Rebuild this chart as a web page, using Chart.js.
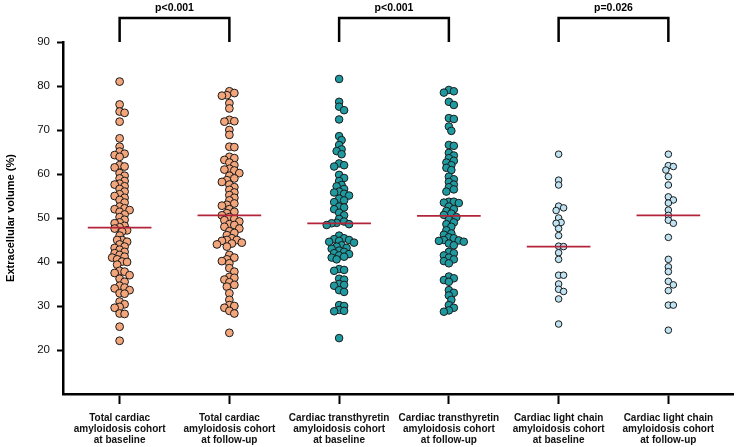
<!DOCTYPE html>
<html>
<head>
<meta charset="utf-8">
<script src="https://cdn.jsdelivr.net/npm/chart.js@4.4.0/dist/chart.umd.min.js"></script>
<style>
    html, body { margin: 0; padding: 0; background: #ffffff; }
</style>
</head>
<body>
<canvas id="grafico-ecv" width="738" height="447"></canvas>
<script>
// Categorias (rótulos do eixo x, em três linhas)
const categorias = [
    ['Total cardiac', 'amyloidosis cohort', 'at baseline'],
    ['Total cardiac', 'amyloidosis cohort', 'at follow-up'],
    ['Cardiac transthyretin', 'amyloidosis cohort', 'at baseline'],
    ['Cardiac transthyretin', 'amyloidosis cohort', 'at follow-up'],
    ['Cardiac light chain', 'amyloidosis cohort', 'at baseline'],
    ['Cardiac light chain', 'amyloidosis cohort', 'at follow-up']
];

// Valores de ECV (%)
const totalBaseline = [81.0, 75.8, 74.2, 73.9, 71.9, 68.1, 66.2, 65.1, 64.6, 64.3, 63.9, 62.0, 61.7, 61.5, 60.2, 59.6,
    59.0, 58.4, 57.8, 57.6, 57.2, 56.6, 56.0, 55.4, 55.0, 54.6, 54.1, 53.5, 52.6, 52.2, 52.0, 51.8, 51.4, 50.8, 50.2,
    49.6, 49.0, 48.8, 48.2, 47.9, 47.6, 47.2, 46.9, 46.0, 45.0, 45.0, 44.6, 44.0, 43.5, 43.2, 42.8, 42.3, 42.0, 41.6,
    41.2, 41.0, 40.6, 40.1, 40.0, 39.4, 38.0, 37.8, 37.5, 37.0, 36.2, 35.5, 34.6, 34.2, 34.0, 33.6, 32.9, 32.8, 31.0,
    30.4, 29.8, 29.6, 28.3, 28.2, 25.3, 22.1];
const totalSeguimento = [78.8, 78.4, 77.9, 77.8, 76.1, 74.9, 72.3, 72.0, 71.9, 70.0, 68.9, 66.2, 66.1, 63.9, 63.6, 63.2,
    62.6, 62.0, 61.2, 61.0, 60.8, 60.2, 59.6, 59.0, 58.6, 58.2, 57.6, 57.0, 56.4, 55.8, 55.2, 54.6, 54.0, 53.3, 53.0,
    52.8, 52.0, 51.4, 51.1, 50.6, 50.2, 49.8, 49.5, 49.2, 48.6, 48.4, 48.0, 47.6, 47.0, 46.6, 46.1, 45.4, 45.0, 45.0,
    44.8, 44.4, 44.2, 44.0, 43.5, 41.6, 41.0, 40.6, 40.2, 39.7, 38.6, 37.8, 36.6, 36.4, 36.0, 35.4, 34.8, 34.4, 32.9,
    31.4, 30.2, 30.0, 29.6, 28.9, 28.3, 23.9];
const ttrBaseline = [81.6, 76.4, 75.3, 74.5, 72.4, 68.6, 67.7, 66.6, 65.6, 65.2, 64.5, 62.4, 62.0, 61.7, 59.8, 59.1,
    58.4, 57.5, 57.2, 56.6, 56.0, 55.8, 55.5, 55.1, 54.4, 54.0, 53.6, 52.6, 52.4, 52.0, 51.2, 50.6, 49.8, 49.2, 48.9,
    48.8, 48.6, 48.4, 46.0, 45.4, 45.2, 45.0, 44.8, 44.6, 44.4, 43.8, 43.5, 43.2, 43.0, 42.6, 42.3, 42.0, 41.8, 41.5,
    41.2, 41.0, 40.6, 38.4, 38.2, 38.0, 36.2, 36.0, 35.0, 34.8, 34.6, 33.6, 33.2, 30.2, 30.0, 29.1, 28.9, 28.8, 22.7];
const ttrSeguimento = [79.1, 78.8, 78.5, 76.4, 75.7, 72.7, 72.5, 70.8, 69.8, 66.6, 66.4, 64.8, 64.2, 63.6, 63.0, 62.6,
    62.0, 61.4, 60.9, 59.4, 58.8, 58.2, 57.6, 57.0, 56.5, 56.0, 53.7, 53.7, 53.5, 53.4, 52.6, 52.0, 51.6, 51.0, 50.7,
    50.2, 49.6, 49.0, 48.6, 48.0, 47.2, 46.5, 46.2, 45.6, 45.4, 45.0, 44.9, 44.8, 44.6, 44.2, 43.8, 42.3, 42.0, 41.5,
    41.0, 40.6, 40.2, 39.7, 36.7, 36.3, 35.9, 35.5, 33.6, 33.0, 32.4, 31.4, 30.2, 29.6, 29.0, 28.7];
const alBaseline = [64.5, 58.6, 57.5, 52.7, 52.3, 51.7, 50.0, 49.0, 48.8, 47.6, 46.0, 43.6, 43.5, 42.1, 40.6, 37.0,
    37.0, 35.0, 33.8, 33.3, 31.6, 25.9];
const alSeguimento = [64.5, 61.9, 61.7, 60.9, 59.4, 57.5, 54.8, 54.1, 53.4, 51.8, 50.6, 49.5, 48.8, 45.6, 40.6, 38.9,
    37.8, 35.6, 34.8, 33.5, 30.2, 30.2, 24.5];

// Medianas (linhas vermelhas) e valores de p
const medianas = [47.8, 50.6, 48.8, 50.5, 43.5, 50.6];
const pValores = ['p<0.001', 'p<0.001', 'p=0.026'];

const grupos = [totalBaseline, totalSeguimento, ttrBaseline, ttrSeguimento, alBaseline, alSeguimento];
const cores = ['#f3a57c', '#f3a57c', '#1e9aa0', '#1e9aa0', '#bfe3f3', '#bfe3f3'];
const raios = [3.9, 3.9, 3.8, 3.8, 3.3, 3.3];

// escala aproximada (px por unidade) para montar o enxame de pontos
const X_MIN = 0.484, X_MAX = 6.589, Y_MIN = 10, Y_MAX = 90;
const PX_X = 674 / (X_MAX - X_MIN);
const PX_Y = 352 / (Y_MAX - Y_MIN);

function enxame(valores, grupo) {
    const colocados = [];
    return valores.slice().sort((a, b) => b - a).map(v => {
        const y = v * PX_Y;
        for (let k = 0; k < 40; k++) {
            const dx = (k % 2 ? 1 : -1) * Math.ceil(k / 2) * 2.5;
            const livre = colocados.every(p => Math.hypot(p.x - dx, p.y - y) >= 4.6);
            if (livre) {
                colocados.push({ x: dx, y: y });
                return { x: grupo + dx / PX_X, y: v };
            }
        }
        return { x: grupo, y: v };
    });
}

const datasets = [];
grupos.forEach((valores, i) => {
    datasets.push({
        data: enxame(valores, i + 1),
        backgroundColor: cores[i],
        borderColor: '#1a1a1a',
        borderWidth: 1,
        pointRadius: raios[i],
        order: 1
    });
});
medianas.forEach((m, i) => {
    datasets.push({
        data: [{ x: i + 1 - 0.29, y: m }, { x: i + 1 + 0.29, y: m }],
        showLine: true,
        borderColor: '#b3243b',
        borderWidth: 1.8,
        pointRadius: 0,
        order: 0
    });
});

// Colchetes com os valores de p acima do gráfico
const colchetes = {
    id: 'colchetes',
    afterDraw(chart) {
        const ctx = chart.ctx;
        const escalaX = chart.scales.x;
        const topo = chart.chartArea.top;
        ctx.save();
        ctx.strokeStyle = '#000';
        ctx.lineWidth = 2.5;
        ctx.fillStyle = '#000';
        ctx.font = 'bold 10.5px "Liberation Sans", Arial, sans-serif';
        ctx.textAlign = 'center';
        ctx.textBaseline = 'middle';
        pValores.forEach((p, i) => {
            const x1 = escalaX.getPixelForValue(2 * i + 1);
            const x2 = escalaX.getPixelForValue(2 * i + 2);
            ctx.beginPath();
            ctx.moveTo(x1, topo);
            ctx.lineTo(x1, topo - 24);
            ctx.lineTo(x2, topo - 24);
            ctx.lineTo(x2, topo);
            ctx.stroke();
            ctx.fillText(p, (x1 + x2) / 2, topo - 34);
        });
        ctx.restore();
    }
};

document.addEventListener('DOMContentLoaded', function () {
    const ctx = document.getElementById('grafico-ecv').getContext('2d');
    new Chart(ctx, {
        type: 'scatter',
        data: { datasets: datasets },
        plugins: [colchetes],
        options: {
            responsive: false,
            animation: false,
            layout: { padding: { top: 42, right: 1, left: 0, bottom: 0 } },
            plugins: {
                legend: { display: false },
                tooltip: { enabled: false }
            },
            scales: {
                x: {
                    type: 'linear',
                    min: X_MIN,
                    max: X_MAX,
                    afterBuildTicks: s => { s.ticks = categorias.map((c, i) => ({ value: i + 1 })); },
                    afterFit: s => { s.height = 53; },
                    grid: { drawOnChartArea: false, drawTicks: true, tickLength: 10, tickWidth: 2, tickColor: '#000' },
                    border: { display: true, color: '#000', width: 2.5 },
                    ticks: {
                        autoSkip: false,
                        maxRotation: 0,
                        padding: 9,
                        color: '#111',
                        font: { family: '"Liberation Sans", Arial, sans-serif', size: 10, weight: 'bold', lineHeight: 1.1 },
                        callback: v => categorias[Math.round(v) - 1]
                    }
                },
                y: {
                    min: Y_MIN,
                    max: Y_MAX,
                    afterFit: s => { s.width = 63; },
                    grid: {
                        drawOnChartArea: false, drawTicks: true, tickLength: 6, tickWidth: 2,
                        tickColor: c => (c.tick && c.tick.value === 10) ? 'rgba(0,0,0,0)' : '#000'
                    },
                    border: { display: true, color: '#000', width: 2.5 },
                    ticks: {
                        stepSize: 10,
                        padding: 7,
                        color: '#111',
                        font: { family: '"Liberation Sans", Arial, sans-serif', size: 11.5 },
                        callback: v => v === 10 ? '' : v
                    },
                    title: {
                        display: true,
                        text: 'Extracellular volume (%)',
                        color: '#000',
                        padding: { top: 4, bottom: 0 },
                        font: { family: '"Liberation Sans", Arial, sans-serif', size: 11, weight: 'bold' }
                    }
                }
            }
        }
    });
});
</script>
</body>
</html>
